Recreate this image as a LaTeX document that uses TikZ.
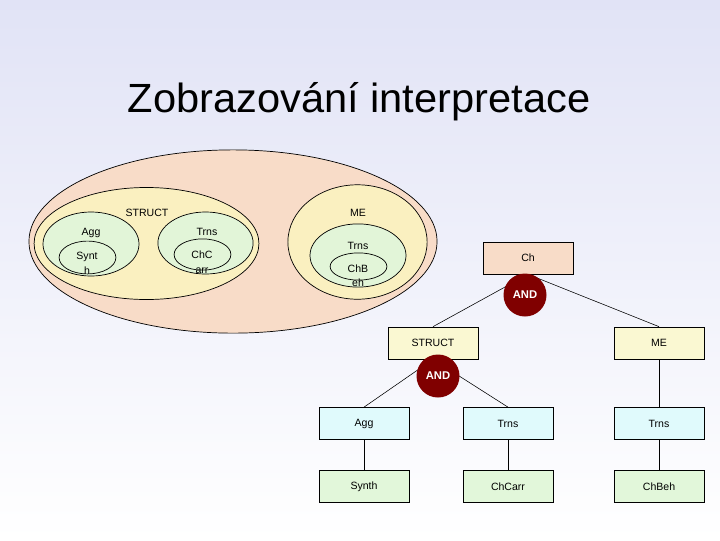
\documentclass[tikz,border=0pt]{standalone}
\usepackage{fontspec}
\setmainfont{Liberation Sans}
\usepackage{tikz}
\usetikzlibrary{calc}
\definecolor{bgtop}{HTML}{E1E3F6}
\definecolor{peach}{HTML}{F8DCC8}
\definecolor{paleyellow}{HTML}{FAF0C0}
\definecolor{palegreen}{HTML}{E2F5D8}
\definecolor{boxyellow}{HTML}{FAF8D2}
\definecolor{boxcyan}{HTML}{E0FAFC}
\definecolor{boxgreen}{HTML}{E2F7DA}
\definecolor{andred}{HTML}{800000}
\tikzset{
    lbl/.style={inner sep=0pt, font=\fontsize{7.5}{8}\selectfont},
    box/.style={draw, line width=0.5pt, minimum width=2.25cm, minimum height=0.8cm, inner sep=0pt, font=\fontsize{7.5}{8}\selectfont},
    andnode/.style={circle, fill=andred, text=white, minimum size=1.075cm, inner sep=0pt, font=\bfseries\fontsize{8}{9}\selectfont},
    ring/.style={draw, line width=0.5pt}
}

\begin{document}
\begin{tikzpicture}[x=0.025cm,y=-0.025cm]
        \shade[top color=bgtop, bottom color=white] (0,0) rectangle (720,540);
        \useasboundingbox (0,0) rectangle (720,540);
        \node[inner sep=0pt, font=\fontsize{29}{32}\selectfont, anchor=base, xscale=1.02] (title) at (359,112) {Zobrazování interpretace};
        % nested sets
        \coordinate (oc) at (233,241.5);
        \coordinate (sc) at (146.5,243.5);
        \coordinate (ac) at (91,244);
        \coordinate (yc) at (87.5,257.5);
        \coordinate (tc) at (205.5,243);
        \coordinate (cc) at (202.5,254.5);
        \coordinate (mc) at (357.5,242);
        \coordinate (nc) at (358,255.5);
        \coordinate (bc) at (358.5,266.5);
        \draw[ring,fill=peach] (oc) ellipse [x radius=5.1cm, y radius=2.29cm];
        \draw[ring,fill=paleyellow] (sc) ellipse [x radius=2.81cm, y radius=1.4cm];
        \draw[ring,fill=paleyellow] (mc) ellipse [x radius=1.74cm, y radius=1.43cm];
        \draw[ring,fill=palegreen] (ac) ellipse [x radius=1.2cm, y radius=0.8cm];
        \draw[ring,fill=palegreen] (yc) ellipse [x radius=0.71cm, y radius=0.41cm];
        \draw[ring,fill=palegreen] (tc) ellipse [x radius=1.19cm, y radius=0.775cm];
        \draw[ring,fill=palegreen] (cc) ellipse [x radius=0.71cm, y radius=0.39cm];
        \draw[ring,fill=palegreen] (nc) ellipse [x radius=1.2cm, y radius=0.79cm];
        \draw[ring,fill=palegreen] (bc) ellipse [x radius=0.71cm, y radius=0.34cm];
        \node[lbl] (sl) at (147,213) {STRUCT};
        \node[lbl] (al) at (91,233) {Agg};
        \node[lbl] (yl1) at (87,257) {Synt};
        \node[lbl] (yl2) at (87,271) {h};
        \node[lbl] (tl) at (207,232) {Trns};
        \node[lbl] (cl1) at (202,255) {ChC};
        \node[lbl] (cl2) at (202,271) {arr};
        \node[lbl] (ml) at (358,213) {ME};
        \node[lbl] (nl) at (358,246) {Trns};
        \node[lbl] (bl1) at (358,269) {ChB};
        \node[lbl] (bl2) at (358,283) {eh};
        % tree
        \node[box,fill=peach] (ch) at (528,258) {Ch};
        \node[box,fill=boxyellow] (struct) at (433,343) {STRUCT};
        \node[box,fill=boxyellow] (me) at (659,343) {ME};
        \node[box,fill=boxcyan] (agg) at (364,423.5) {Agg};
        \node[box,fill=boxcyan] (trnss) at (508,423.5) {Trns};
        \node[box,fill=boxcyan] (trnsm) at (659,423.5) {Trns};
        \node[box,fill=boxgreen] (synth) at (364,486.5) {Synth};
        \node[box,fill=boxgreen] (chcarr) at (508,486.5) {ChCarr};
        \node[box,fill=boxgreen] (chbeh) at (659,486.5) {ChBeh};
        \draw (ch.south) -- (struct.north);
        \draw (ch.south) -- (me.north);
        \draw (struct.south) -- (agg.north);
        \draw (struct.south) -- (trnss.north);
        \draw (me) -- (trnsm);
        \draw (agg) -- (synth);
        \draw (trnss) -- (chcarr);
        \draw (trnsm) -- (chbeh);
        \node[andnode] (andch) at (525,295) {AND};
        \node[andnode] (andst) at (438,376) {AND};
    \end{tikzpicture}
\end{document}
